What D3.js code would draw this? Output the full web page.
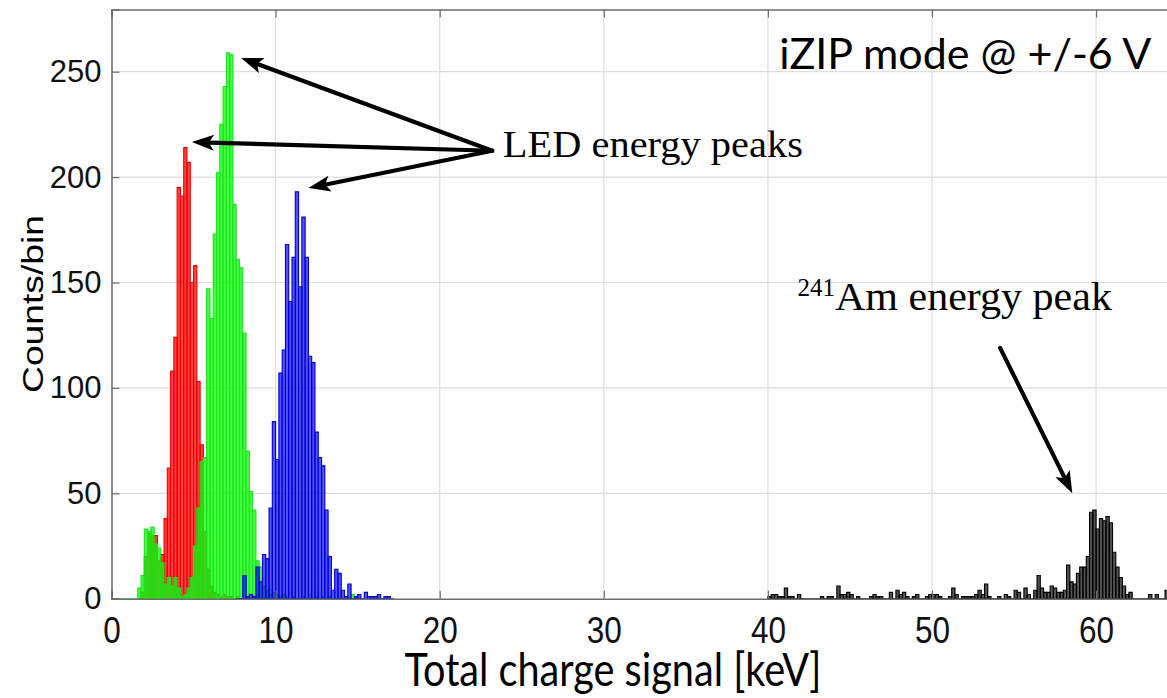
<!DOCTYPE html>
<html>
<head>
<meta charset="utf-8">
<script src="https://cdn.jsdelivr.net/npm/d3@7/dist/d3.min.js"></script>
<style>
  body { margin: 0; background: #fff; }
  svg { display: block; }
</style>
</head>
<body>
<svg id="chart" width="1167" height="698"></svg>
<script>
// Histogram bin width in keV (all spectra share it)
const binWidth = 0.2;

// LED runs (red / green / blue) and the 241Am calibration spectrum (black)
const redStart = 1.6;
const redCounts = [0, 3, 20, 31, 30, 30, 18, 21, 38, 62, 108, 124, 195, 191, 214, 207,
  150, 158, 103, 73, 32, 14, 6, 3, 2, 1, 2, 1, 1, 0, 1];

const greenStart = 0;
const greenCounts = [0, 0, 0, 0, 0, 0, 0, 0, 5, 11, 33, 32, 34, 26, 24, 17, 7, 10, 6, 10,
  5, 1, 2, 5, 10, 25, 43, 65, 67, 147, 133, 173, 202, 225, 243, 259, 258, 187, 161, 157,
  126, 70, 51, 42, 18, 15, 6, 4, 2, 3, 2, 1, 2, 1, 0, 1, 0, 0, 1, 0, 2, 0, 1, 0, 1, 0,
  1, 0, 0, 0, 0, 0, 0, 2, 0];

const blueStart = 7.6;
const blueCounts = [0, 0, 11, 1, 2, 1, 15, 8, 21, 19, 43, 84, 66, 107, 118, 168, 141, 162,
  193, 148, 181, 162, 115, 112, 79, 67, 63, 42, 20, 4, 14, 12, 4, 1, 7, 0, 1, 2, 0, 3, 1,
  1, 1, 2, 0, 1, 1, 0];

const amStart = 40.0;
const amCounts = [1, 2, 2, 1, 1, 5, 1, 1, 0, 2, 0, 0, 0, 0, 0, 0, 1, 0, 1, 1, 0, 6, 2, 2,
  3, 2, 0, 1, 0, 0, 0, 1, 2, 1, 1, 0, 0, 3, 0, 4, 2, 3, 1, 0, 1, 2, 0, 0, 1, 2, 2, 2, 1, 0,
  0, 1, 5, 2, 0, 1, 1, 1, 1, 2, 4, 2, 7, 1, 0, 0, 1, 0, 2, 1, 0, 4, 3, 0, 5, 2, 0, 4, 11,
  5, 3, 3, 6, 5, 3, 3, 4, 16, 8, 7, 12, 15, 15, 20, 41, 42, 33, 38, 37, 39, 36, 22, 15, 10,
  6, 2, 3, 0, 0, 0, 0, 0, 2, 0, 2, 0, 0, 4, 0, 0, 0, 0];

// Axis ticks and titles
const xTicks = [0, 10, 20, 30, 40, 50, 60];
const yTicks = [0, 50, 100, 150, 200, 250];
const xTitle = "Total charge signal [keV]";
const yTitle = "Counts/bin";

// Annotations, placed in data units (keV, counts)
const ledText = "LED energy peaks";
const ledTextAt = [23.85, 209.5];
const ledArrowFrom = [23.2, 212.5];
const ledArrowTips = [[7.9, 256.5], [4.9, 216.6], [12.0, 194.8]];
const amText = "Am energy peak";
const amIsotope = "241";
const amTextAt = [41.8, 137];
const amArrowFrom = [54.15, 119];
const amArrowTip = [58.55, 50];
const modeText = "iZIP mode @ +/-6 V";
const modeTextAt = [40.7, 251.5];

const svg = d3.select("#chart");

const x = d3.scaleLinear().domain([0, 65]).range([111.5, 111.5 + 65 * 16.41]);
const y = d3.scaleLinear().domain([0, 279.5]).range([598.7, 9.5]);

const plotLeft = x(0), plotRight = x(65), plotTop = y(279.5), plotBottom = y(0);

// Grid
const grid = svg.append("g").attr("stroke", "#dedede").attr("stroke-width", 1.2);
grid.selectAll("line.gx").data(xTicks.slice(1)).join("line").attr("class", "gx")
  .attr("x1", d => x(d)).attr("x2", d => x(d)).attr("y1", plotTop).attr("y2", plotBottom);
grid.selectAll("line.gy").data(yTicks.slice(1)).join("line").attr("class", "gy")
  .attr("x1", plotLeft).attr("x2", plotRight).attr("y1", d => y(d)).attr("y2", d => y(d));

// Histogram series, drawn in order red, green, blue, black
function drawHist(start, counts, fill, edge, opacity) {
  const bins = counts.map((c, i) => ({ x0: start + i * binWidth, x1: start + (i + 1) * binWidth, c }));
  svg.append("g").selectAll("path").data(bins).join("path")
    .attr("d", b => `M${x(b.x0)},${y(0)}V${y(b.c)}H${x(b.x1)}V${y(0)}Z`)
    .attr("fill", fill).attr("fill-opacity", opacity)
    .attr("stroke", edge).attr("stroke-width", 1.1);
}
drawHist(redStart, redCounts, "#ff0000", "#ee0000", 0.74);
drawHist(greenStart, greenCounts, "#00ff00", "#1ee01e", 0.74);
drawHist(blueStart, blueCounts, "#0000ff", "#0000c8", 0.68);
drawHist(amStart, amCounts, "#000000", "#000000", 0.68);

// Axes (ticks point into the plot box)
const axisColor = "#6e6e6e";
const yAxis = svg.append("g").attr("transform", `translate(${plotLeft},0)`)
  .call(d3.axisLeft(y).tickValues(yTicks).tickSize(-8).tickPadding(10));
const xAxis = svg.append("g").attr("transform", `translate(0,${plotBottom})`)
  .call(d3.axisBottom(x).tickValues(xTicks).tickSize(-8).tickPadding(19));
const xTop = svg.append("g").attr("transform", `translate(0,${plotTop})`)
  .call(d3.axisTop(x).tickValues(xTicks).tickSize(-8).tickFormat(""));
[yAxis, xAxis, xTop].forEach(g => {
  g.select(".domain").attr("stroke", axisColor).attr("stroke-width", 1.6);
  g.selectAll(".tick line").attr("stroke", axisColor).attr("stroke-width", 1.2);
});
yAxis.selectAll(".tick text").attr("font-family", "Liberation Sans, Arial, sans-serif")
  .attr("font-size", 31).attr("fill", "#111");
xAxis.selectAll(".tick text").attr("font-family", "Liberation Sans, Arial, sans-serif")
  .attr("font-size", 36).attr("fill", "#111")
  .attr("textLength", d => String(d).length * 17.5).attr("lengthAdjust", "spacingAndGlyphs");

// Axis titles
svg.append("text").text(xTitle)
  .attr("x", 613).attr("y", 686).attr("text-anchor", "middle")
  .attr("font-family", "Lato, 'Open Sans', sans-serif").attr("font-size", 46)
  .attr("textLength", 417).attr("lengthAdjust", "spacingAndGlyphs").attr("fill", "#000");
svg.append("text").text(yTitle)
  .attr("transform", "translate(43,304) rotate(-90)").attr("text-anchor", "middle")
  .attr("font-family", "Liberation Sans, Arial, sans-serif").attr("font-size", 30)
  .attr("textLength", 178).attr("lengthAdjust", "spacingAndGlyphs").attr("fill", "#000");

// Arrows
function arrow(from, tip) {
  const x1 = x(from[0]), y1 = y(from[1]), x2 = x(tip[0]), y2 = y(tip[1]);
  const dx = x2 - x1, dy = y2 - y1, len = Math.hypot(dx, dy);
  const ux = dx / len, uy = dy / len, px = -uy, py = ux;
  const headLen = 22, headHalf = 8;
  const bx = x2 - ux * headLen, by = y2 - uy * headLen;
  svg.append("line").attr("x1", x1).attr("y1", y1)
    .attr("x2", x2 - ux * (headLen - 4)).attr("y2", y2 - uy * (headLen - 4))
    .attr("stroke", "#000").attr("stroke-width", 4.2).attr("stroke-linecap", "round");
  svg.append("path")
    .attr("d", `M${x2},${y2}L${bx + px * headHalf},${by + py * headHalf}L${bx + ux * 5},${by + uy * 5}L${bx - px * headHalf},${by - py * headHalf}Z`)
    .attr("fill", "#000");
}
ledArrowTips.forEach(t => arrow(ledArrowFrom, t));
arrow(amArrowFrom, amArrowTip);

// Labels
svg.append("text").text(ledText)
  .attr("x", x(ledTextAt[0])).attr("y", y(ledTextAt[1]))
  .attr("font-family", "Liberation Serif, 'Times New Roman', serif").attr("font-size", 38)
  .attr("textLength", 300).attr("lengthAdjust", "spacingAndGlyphs").attr("fill", "#000");

const am = svg.append("text")
  .attr("x", x(amTextAt[0])).attr("y", y(amTextAt[1]))
  .attr("font-family", "Liberation Serif, 'Times New Roman', serif").attr("fill", "#000");
am.append("tspan").text(amIsotope).attr("font-size", 25).attr("dy", -14);
am.append("tspan").text(amText).attr("font-size", 40).attr("dy", 14)
  .attr("textLength", 277).attr("lengthAdjust", "spacingAndGlyphs");

svg.append("text").text(modeText)
  .attr("x", x(modeTextAt[0])).attr("y", y(modeTextAt[1]))
  .attr("font-family", "Lato, 'Open Sans', sans-serif").attr("font-size", 42)
  .attr("textLength", 372).attr("lengthAdjust", "spacingAndGlyphs").attr("fill", "#000");
</script>
</body>
</html>
